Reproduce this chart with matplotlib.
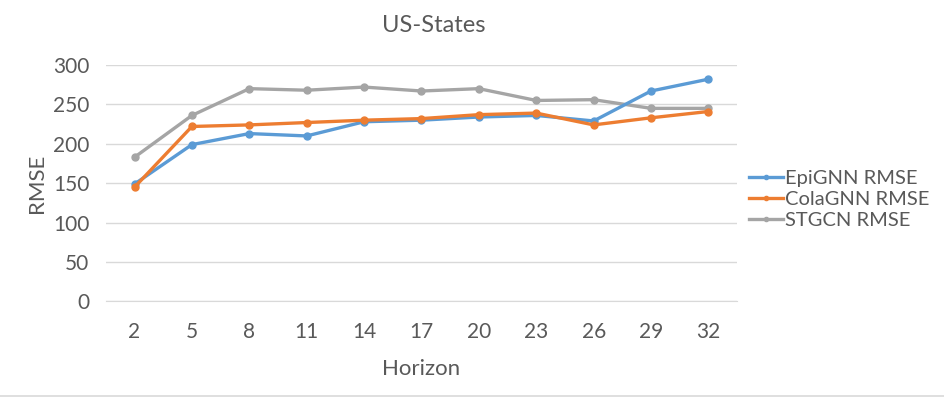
import matplotlib.pyplot as plt
from matplotlib.lines import Line2D

# US-States RMSE by horizon
horizons = [2, 5, 8, 11, 14, 17, 20, 23, 26, 29, 32]
epignn = [149, 199, 213, 210, 228, 230, 234, 236, 229, 267, 282]
colagnn = [145, 222, 224, 227, 230, 232, 237, 239, 224, 233, 241]
stgcn = [183, 236, 270, 268, 272, 267, 270, 255, 256, 245, 245]
yticks = [0, 50, 100, 150, 200, 250, 300]

txt = '#595959'
plt.rcParams['font.family'] = ['Lato', 'DejaVu Sans']

fig = plt.figure(figsize=(9.45, 3.98), dpi=100)
ax = fig.add_axes([0.112, 0.2425, 0.668, 0.5942])

xs = list(range(len(horizons)))
ax.plot(xs, epignn, color='#5b9bd5', lw=2.4, marker='o', ms=5, label='EpiGNN RMSE', zorder=3)
ax.plot(xs, colagnn, color='#ed7d31', lw=2.4, marker='o', ms=5, label='ColaGNN RMSE', zorder=3)
ax.plot(xs, stgcn, color='#a5a5a5', lw=2.4, marker='o', ms=5, label='STGCN RMSE', zorder=2)

ax.set_xlim(-0.5, len(horizons) - 0.5)
ax.set_ylim(0, 300)
ax.set_xticks(xs)
ax.set_xticklabels([str(h) for h in horizons])
ax.set_yticks(yticks)
ax.grid(axis='y', color='#d9d9d9', lw=1)
ax.set_axisbelow(True)
for s in ['top', 'right', 'left']:
    ax.spines[s].set_visible(False)
ax.spines['bottom'].set_color('#d9d9d9')
ax.tick_params(length=0, labelsize=15, colors=txt, pad=15)
ax.tick_params(axis='y', pad=12)

# chart title is centred on the whole chart area, not the plot area
fig.text(0.459, 0.935, 'US-States', fontsize=17, color=txt, ha='center', va='center')
ax.set_xlabel('Horizon', fontsize=16, color=txt, labelpad=12)
ax.set_ylabel('RMSE', fontsize=16, color=txt, labelpad=4)

ax.legend(loc='center left', bbox_to_anchor=(0.99, 0.43), frameon=False,
          fontsize=14.5, labelcolor=txt, handlelength=1.7, handletextpad=0.1,
          labelspacing=0.2, markerscale=0.6)

fig.add_artist(Line2D([0, 1], [0.004, 0.004], color='#d9d9d9', lw=1.2,
                      transform=fig.transFigure))

fig.savefig('out.png', dpi=100)
